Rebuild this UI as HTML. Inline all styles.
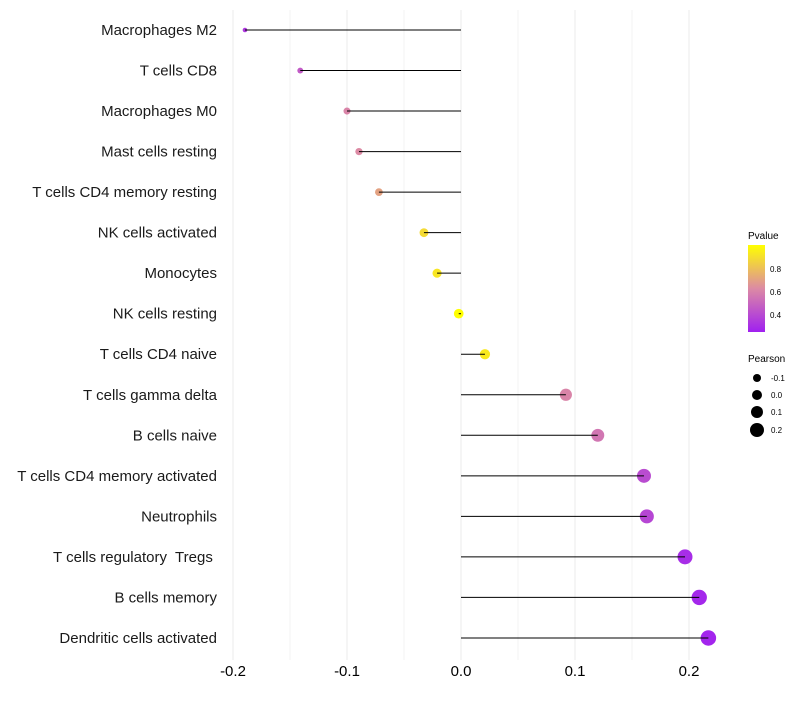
<!DOCTYPE html>
<html><head><meta charset="utf-8"><style>
body{margin:0;background:#fff;font-family:"Liberation Sans",sans-serif}
text{white-space:pre}
</style></head><body>
<svg id="chart" width="800" height="700" xmlns="http://www.w3.org/2000/svg" font-family="Liberation Sans, sans-serif">
<defs><linearGradient id="pg" x1="0" y1="1" x2="0" y2="0">
<stop offset="0" stop-color="#a020f0"/><stop offset="0.5" stop-color="#dc8aa4"/><stop offset="1" stop-color="#ffff00"/></linearGradient></defs>
<g id="grid"></g>
<g id="marks"></g>
<g id="labels"></g>
<g id="xt"></g>
<g>
<text x="748" y="239" font-size="10">Pvalue</text>
<rect x="748" y="245" width="17" height="87" fill="url(#pg)"/>
<text x="770" y="272" font-size="8">0.8</text>
<text x="770" y="295" font-size="8">0.6</text>
<text x="770" y="318" font-size="8">0.4</text>
</g>
<g>
<text x="748" y="362" font-size="10">Pearson</text>
<circle cx="757" cy="378" r="4"/><text x="771" y="381" font-size="8">-0.1</text>
<circle cx="757" cy="395" r="5"/><text x="771" y="398" font-size="8">0.0</text>
<circle cx="757" cy="412" r="6"/><text x="771" y="415" font-size="8">0.1</text>
<circle cx="757" cy="430" r="7"/><text x="771" y="433" font-size="8">0.2</text>
</g>
</svg>
<script>
const categories=["Macrophages M2","T cells CD8","Macrophages M0","Mast cells resting","T cells CD4 memory resting","NK cells activated","Monocytes","NK cells resting","T cells CD4 naive","T cells gamma delta","B cells naive","T cells CD4 memory activated","Neutrophils","T cells regulatory  Tregs ","B cells memory","Dendritic cells activated"];
const pearson=[-0.1895,-0.141,-0.1,-0.0895,-0.072,-0.0325,-0.021,-0.002,0.021,0.092,0.12,0.1605,0.163,0.1965,0.209,0.217];
const pvalue=[0.33,0.45,0.6,0.62,0.7,0.88,0.92,1.0,0.93,0.6,0.55,0.4,0.38,0.29,0.27,0.26];
const xTicks=[-0.2,-0.1,0.0,0.1,0.2];
const xTickLabels=["-0.2","-0.1","0.0","0.1","0.2"];
const NS="http://www.w3.org/2000/svg";
const x=v=>461+v*1140;
const y=i=>30+i*40.53;
const r=v=>2.3+(v+0.19)/0.41*5.5;
function mix(a,b,t){return a.map((c,k)=>Math.round(c+(b[k]-c)*t));}
function col(p){const t=Math.max(0,Math.min(1,(p-0.243)/(1-0.243)));
const P=[160,32,240],M=[220,138,164],Y=[255,255,0];
const c=t<0.5?mix(P,M,t*2):mix(M,Y,(t-0.5)*2);return `rgb(${c})`;}
function mk(tag,at,parent){const e=document.createElementNS(NS,tag);for(const k in at)e.setAttribute(k,at[k]);parent.appendChild(e);return e;}
const grid=document.getElementById('grid'),marks=document.getElementById('marks'),labels=document.getElementById('labels'),xt=document.getElementById('xt');
for(let v=-0.2;v<=0.21;v+=0.05){const g=mk('line',{x1:x(v),x2:x(v),y1:10,y2:660,stroke:'#ebebeb','stroke-width':Math.abs(Math.round(v*20))%2===0?1:0.6},grid);

}
xTicks.forEach((v,i)=>{const t=mk('text',{x:x(v),y:676,'font-size':15,'text-anchor':'middle',fill:'#000'},xt);t.textContent=xTickLabels[i];

});
categories.forEach((c,i)=>{
const t=mk('text',{x:217,y:y(i)+5,'font-size':15,'text-anchor':'end',fill:'#1a1a1a'},labels);t.textContent=c;


const ci=mk('circle',{cx:x(pearson[i]),cy:y(i),r:r(pearson[i]),fill:col(pvalue[i])},marks);


const l=mk('line',{x1:x(0),x2:x(pearson[i]),y1:y(i),y2:y(i),stroke:'#000','stroke-width':1},marks);


});
</script>
</body></html>
